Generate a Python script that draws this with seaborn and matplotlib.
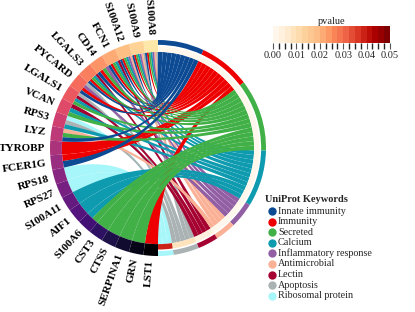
import numpy as np
import matplotlib
matplotlib.use("Agg")
import matplotlib.pyplot as plt
import matplotlib as mpl
import seaborn as sns
from matplotlib.patches import Wedge, Polygon

genes = ["S100A8", "S100A9", "S100A12", "FCN1", "CD14", "LGALS3", "PYCARD",
         "LGALS1", "VCAN", "RPS3", "LYZ", "TYROBP", "FCER1G", "RPS18", "RPS27",
         "S100A11", "AIF1", "S100A6", "CST3", "CTSS", "SERPINA1", "GRN", "LST1"]

keywords = ["Innate immunity", "Immunity", "Secreted", "Calcium",
            "Inflammatory response", "Antimicrobial", "Lectin", "Apoptosis",
            "Ribosomal protein"]
keyword_colors = ["#0d4a94", "#ee0000", "#41b047", "#0e9aaf", "#925fa5",
                  "#fbb196", "#a60231", "#aab2b3", "#a6f6fa"]
keyword_pvalues = [0.0004, 0.0008, 0.0003, 0.0015, 0.0010, 0.0020, 0.0025,
                   0.0090, 0.0380]

# keyword indices per gene
gene_terms = [
    [0, 1, 2, 3, 4, 5, 7],  # S100A8
    [0, 1, 2, 3, 4, 5, 7],  # S100A9
    [0, 1, 2, 3, 4, 5],     # S100A12
    [0, 1, 2, 3, 6],        # FCN1
    [0, 1, 2, 4],           # CD14
    [0, 1, 2, 3, 6],        # LGALS3
    [0, 1, 4, 7],           # PYCARD
    [2, 3, 6, 7],           # LGALS1
    [2, 3, 6],              # VCAN
    [3, 7, 8],              # RPS3
    [0, 2, 5],              # LYZ
    [1],                    # TYROBP
    [0, 1],                 # FCER1G
    [8],                    # RPS18
    [8],                    # RPS27
    [3],                    # S100A11
    [3],                    # AIF1
    [2, 3],                 # S100A6
    [2],                    # CST3
    [2],                    # CTSS
    [2],                    # SERPINA1
    [2],                    # GRN
    [1],                    # LST1
]

sns.set_theme(style="white")
plt.rcParams["font.family"] = ["Liberation Serif", "DejaVu Serif"]

W, H = 415, 312
fig = plt.figure(figsize=(W / 100, H / 100), dpi=100)
ax = fig.add_axes([0, 0, 1, 1])
cx, cy, R = 158, 148, 108
ax.set_xlim(-cx / R, (W - cx) / R)
ax.set_ylim(-(H - cy) / R, cy / R)
ax.set_aspect("equal")
ax.axis("off")

r_in = 0.89
n_links = sum(len(t) for t in gene_terms)
gene_span = 180 / len(genes)
unit = 180 / n_links
counts = [sum(k in t for t in gene_terms) for k in range(len(keywords))]
kw_start = 90 - unit * np.concatenate([[0], np.cumsum(counts)[:-1]])


def pt(a, r):
    a = np.deg2rad(a)
    return np.array([r * np.cos(a), r * np.sin(a)])


def arc(a1, a2, r, n=25):
    a = np.deg2rad(np.linspace(a1, a2, n))
    return np.column_stack([r * np.cos(a), r * np.sin(a)])


def bez(p0, p2, n=50):
    t = np.linspace(0, 1, n)[:, None]
    return (1 - t) ** 2 * p0 + t ** 2 * p2


# chord slots
kw_used = [0] * len(keywords)
chords = []
for i, terms in enumerate(gene_terms):
    g0 = 90 + i * gene_span
    sub = gene_span / len(terms)
    for j, k in enumerate(sorted(terms, reverse=True)):
        g_lo, g_hi = g0 + j * sub, g0 + (j + 1) * sub
        k_hi = kw_start[k] - kw_used[k] * unit
        k_lo = k_hi - unit
        kw_used[k] += 1
        chords.append((k, g_lo, g_hi, k_lo, k_hi))

# stacking order of the ribbons (last one on top)
draw_order = [8, 7, 6, 5, 4, 3, 1, 2, 0]
for k, g_lo, g_hi, k_lo, k_hi in sorted(chords, key=lambda c: draw_order.index(c[0])):
    pts = np.vstack([
        arc(g_lo, g_hi, r_in),
        bez(pt(g_hi, r_in), pt(k_lo, r_in)),
        arc(k_lo, k_hi, r_in),
        bez(pt(k_hi, r_in), pt(g_lo, r_in)),
    ])
    ax.add_patch(Polygon(pts, closed=True, facecolor=keyword_colors[k],
                         edgecolor="none", lw=0, zorder=2))

# gene ring
gene_cols = plt.get_cmap("magma")(np.linspace(0.95, 0.0, len(genes)))
for i, g in enumerate(genes):
    a1 = 90 + i * gene_span
    ax.add_patch(Wedge((0, 0), 1.0, a1, a1 + gene_span, width=0.11,
                       facecolor=gene_cols[i], edgecolor="none", zorder=3))
    am = a1 + gene_span / 2
    x, y = pt(am, 1.045)
    ax.text(x, y, g, rotation=am - 180, rotation_mode="anchor", ha="right",
            va="center", fontsize=8, fontweight="bold", color="black")

# keyword rings
cmap = plt.get_cmap("OrRd")
bounds = np.linspace(0, 0.05, 21)
norm = mpl.colors.BoundaryNorm(bounds, cmap.N)
for k in range(len(keywords)):
    a2 = kw_start[k]
    a1 = a2 - counts[k] * unit
    ax.add_patch(Wedge((0, 0), 1.0, a1, a2, width=0.045,
                       facecolor=keyword_colors[k], edgecolor="none", zorder=3))
    ax.add_patch(Wedge((0, 0), 0.94, a1, a2, width=0.05,
                       facecolor=cmap(norm(keyword_pvalues[k])),
                       edgecolor="none", zorder=3))

# legend
fig.text(265 / W, 1 - 199 / H, "UniProt Keywords", fontsize=7.5,
         fontweight="bold", va="center", ha="left")
for i, (kw, col) in enumerate(zip(keywords, keyword_colors)):
    yy = 1 - (211 + i * 10.6) / H
    ax.scatter([272 / W], [yy], s=36, color=col, transform=fig.transFigure,
               clip_on=False, zorder=5, linewidths=0)
    fig.text(278 / W, yy, kw, fontsize=7.3, va="center", ha="left")

# colorbar
cax = fig.add_axes([273 / W, 1 - 43 / H, 117 / W, 17 / H])
cb = mpl.colorbar.ColorbarBase(cax, cmap=cmap, norm=norm,
                               orientation="horizontal",
                               ticks=[0, 0.01, 0.02, 0.03, 0.04, 0.05])
cb.outline.set_visible(False)
cb.set_ticklabels(["0.00", "0.01", "0.02", "0.03", "0.04", "0.05"])
cax.tick_params(labelsize=7.5, length=4, width=0.8, color="#555555", pad=1.5)
cax.set_title("pvalue", fontsize=7.5, pad=1)

fig.savefig("out.png", dpi=100)
